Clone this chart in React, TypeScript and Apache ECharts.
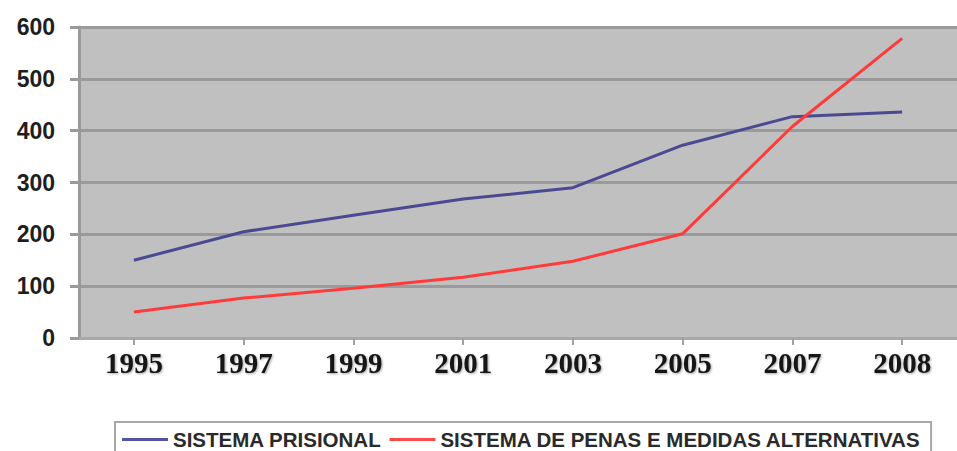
import React, { useEffect, useRef } from "react";
import * as echarts from "echarts";

const categories = ["1995", "1997", "1999", "2001", "2003", "2005", "2007", "2008"];
const sistemaPrisional = [150, 205, 237, 268, 290, 372, 427, 436];
const penasAlternativas = [50, 77, 96, 117, 148, 201, 408, 578];
const seriesNames = ["SISTEMA PRISIONAL", "SISTEMA DE PENAS E MEDIDAS ALTERNATIVAS"];

export default function App() {
  const ref = useRef<HTMLDivElement>(null);
  useEffect(() => {
    if (!ref.current) return;
    const chart = echarts.init(ref.current, null, { renderer: "svg" });
    chart.setOption({
      animation: false,
      backgroundColor: "#ffffff",
      grid: {
        left: 79,
        right: 0,
        top: 27,
        bottom: 113,
        show: true,
        backgroundColor: "#c0c0c0",
        borderWidth: 0,
      },
      legend: {
        left: 115,
        top: 422,
        icon: "rect",
        itemWidth: 46,
        itemHeight: 3,
        itemGap: 8,
        padding: [7, 10, 6, 7],
        borderColor: "#a8a8a8",
        borderWidth: 2,
        textStyle: {
          fontFamily: "Liberation Sans, Arial, sans-serif",
          fontWeight: "bold",
          fontSize: 20.5,
          lineHeight: 20,
          color: "#2a2a2a",
        },
        data: seriesNames,
      },
      xAxis: {
        type: "category",
        data: categories,
        boundaryGap: true,
        axisLine: { show: true, lineStyle: { color: "#a8a8a8", width: 3 } },
        axisTick: { show: true, alignWithLabel: true, length: 7, lineStyle: { color: "#a0a0a0", width: 2 } },
        axisLabel: {
          margin: 10,
          fontFamily: "Liberation Serif, Times New Roman, serif",
          fontWeight: "bold",
          fontSize: 29,
          color: "#151515",
          textShadowColor: "rgba(0,0,0,0.35)",
          textShadowBlur: 2,
          textShadowOffsetX: 1,
          textShadowOffsetY: 1,
        },
        splitLine: { show: false },
      },
      yAxis: {
        type: "value",
        min: 0,
        max: 600,
        interval: 100,
        axisLine: { show: true, lineStyle: { color: "#9a9a9a", width: 3 } },
        axisTick: { show: true, length: 9, lineStyle: { color: "#9a9a9a", width: 3 } },
        axisLabel: {
          margin: 24,
          fontFamily: "Liberation Sans, Arial, sans-serif",
          fontWeight: "bold",
          fontSize: 23,
          color: "#1e1e1e",
        },
        splitLine: { show: true, lineStyle: { color: "#9a9a9a", width: 3 } },
      },
      series: [
        {
          name: seriesNames[0],
          type: "line",
          data: sistemaPrisional,
          symbol: "none",
          color: "#56569e",
          lineStyle: { color: "#4a4a92", width: 3 },
          z: 3,
        },
        {
          name: seriesNames[1],
          type: "line",
          data: penasAlternativas,
          symbol: "none",
          color: "#ff4a4a",
          lineStyle: { color: "#ff3a3a", width: 3 },
          z: 4,
        },
      ],
    });
    return () => chart.dispose();
  }, []);
  return (
    <div
      ref={ref}
      style={{ position: "fixed", left: 0, top: 0, width: 957, height: 451 }}
    />
  );
}
